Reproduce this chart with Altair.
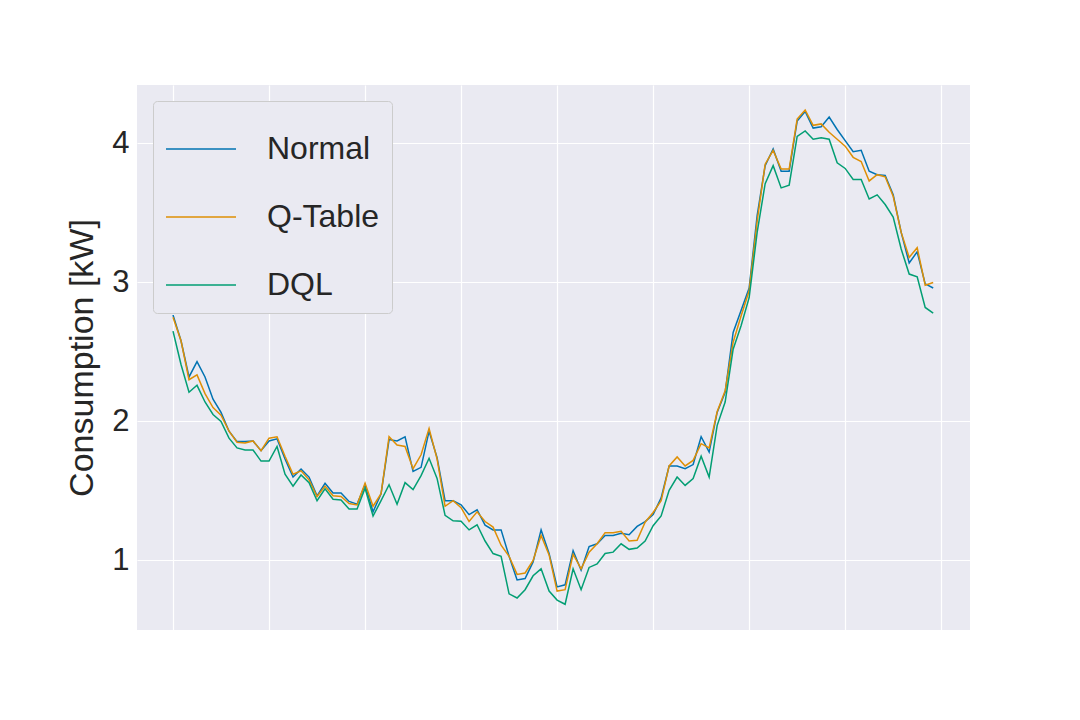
import altair as alt
import pandas as pd

# 15-minute steps over one day (96 values)
normal = [2.765, 2.58, 2.32, 2.43, 2.32, 2.16, 2.065, 1.93, 1.855, 1.855, 1.86, 1.79,
          1.86, 1.875, 1.73, 1.60, 1.657, 1.60, 1.465, 1.555, 1.485, 1.485, 1.425, 1.405,
          1.545, 1.35, 1.48, 1.87, 1.86, 1.89, 1.64, 1.67, 1.93, 1.74, 1.43, 1.43,
          1.40, 1.33, 1.365, 1.254, 1.22, 1.22, 1.03, 0.86, 0.87, 0.99, 1.22, 1.05,
          0.81, 0.825, 1.07, 0.93, 1.10, 1.12, 1.18, 1.18, 1.195, 1.185, 1.245, 1.28,
          1.33, 1.45, 1.68, 1.68, 1.66, 1.69, 1.89, 1.78, 2.065, 2.21, 2.64, 2.80,
          2.96, 3.48, 3.84, 3.96, 3.80, 3.80, 4.16, 4.23, 4.11, 4.12, 4.19, 4.10,
          4.02, 3.94, 3.95, 3.80, 3.775, 3.77, 3.63, 3.36, 3.14, 3.22, 2.99, 2.96]
qtable = [2.75, 2.58, 2.30, 2.335, 2.20, 2.10, 2.045, 1.93, 1.85, 1.845, 1.86, 1.79,
          1.88, 1.89, 1.75, 1.62, 1.645, 1.58, 1.46, 1.535, 1.465, 1.46, 1.41, 1.40,
          1.555, 1.39, 1.48, 1.89, 1.83, 1.82, 1.66, 1.76, 1.95, 1.73, 1.39, 1.43,
          1.38, 1.28, 1.35, 1.28, 1.24, 1.11, 1.03, 0.90, 0.91, 1.00, 1.18, 1.04,
          0.78, 0.79, 1.045, 0.94, 1.06, 1.12, 1.20, 1.20, 1.21, 1.14, 1.145, 1.275,
          1.345, 1.43, 1.68, 1.745, 1.68, 1.72, 1.84, 1.81, 2.07, 2.22, 2.57, 2.76,
          2.94, 3.44, 3.85, 3.95, 3.815, 3.815, 4.175, 4.24, 4.13, 4.14, 4.08, 4.03,
          3.98, 3.90, 3.87, 3.73, 3.775, 3.76, 3.62, 3.36, 3.18, 3.25, 2.98, 3.00]
dql = [2.65, 2.41, 2.21, 2.26, 2.14, 2.05, 2.0, 1.88, 1.81, 1.795, 1.795, 1.715,
       1.715, 1.82, 1.62, 1.535, 1.615, 1.56, 1.43, 1.515, 1.44, 1.435, 1.37, 1.37,
       1.52, 1.32, 1.43, 1.545, 1.405, 1.56, 1.51, 1.61, 1.735, 1.59, 1.325, 1.285,
       1.283, 1.22, 1.257, 1.14, 1.05, 1.03, 0.76, 0.73, 0.79, 0.89, 0.94, 0.78,
       0.715, 0.685, 0.94, 0.79, 0.95, 0.975, 1.05, 1.06, 1.12, 1.08, 1.09, 1.14,
       1.25, 1.32, 1.505, 1.60, 1.54, 1.59, 1.75, 1.60, 1.97, 2.14, 2.52, 2.69,
       2.89, 3.36, 3.71, 3.84, 3.68, 3.70, 4.05, 4.09, 4.03, 4.04, 4.03, 3.86,
       3.82, 3.74, 3.74, 3.60, 3.63, 3.56, 3.47, 3.24, 3.06, 3.04, 2.82, 2.78]

series = ["Normal", "Q-Table", "DQL"]
colors = ["#0173b2", "#de8f05", "#029e73"]

hours = [i * 0.25 for i in range(96)]
data = pd.DataFrame(
    [{"t": h, "Value": v, "Series": s}
     for s, vals in zip(series, [normal, qtable, dql])
     for h, v in zip(hours, vals)]
)

font = "Liberation Sans"

chart = (
    alt.Chart(data)
    .mark_line(strokeWidth=1.5)
    .encode(
        x=alt.X(
            "t:Q",
            title="Time",
            scale=alt.Scale(domain=[-1.125, 24.9], nice=False, zero=False),
            axis=alt.Axis(
                values=[0, 3, 6, 9, 12, 15, 18, 21, 24],
                labelExpr="(datum.value % 24 < 10 ? '0' : '') + (datum.value % 24) + ':00'",
            ),
        ),
        y=alt.Y(
            "Value:Q",
            title="Consumption [kW]",
            scale=alt.Scale(domain=[0.5, 4.42], nice=False, zero=False),
            axis=alt.Axis(values=[1, 2, 3, 4]),
        ),
        color=alt.Color(
            "Series:N",
            sort=series,
            scale=alt.Scale(domain=series, range=colors),
            legend=alt.Legend(
                title=None,
                orient="top-left",
                offset=16,
                fillColor="#eaeaf2",
                strokeColor="#cccccc",
                cornerRadius=4,
                padding=12,
                labelFontSize=32,
                labelFont=font,
                labelColor="#262626",
                symbolType="stroke",
                symbolStrokeWidth=1.5,
                symbolSize=4900,
                rowPadding=16,
                labelOffset=30,
            ),
        ),
    )
    .properties(
        width=833,
        height=545,
        padding={"left": 129, "top": 77, "right": 0, "bottom": 0},
        autosize=alt.AutoSizeParams(type="none"),
        background="white",
    )
    .configure_view(fill="#eaeaf2", stroke=None)
    .configure_axis(
        grid=True,
        gridColor="white",
        gridWidth=1.2,
        domain=False,
        ticks=False,
        labelFont=font,
        titleFont=font,
        labelFontSize=31,
        titleFontSize=34,
        titleFontWeight="normal",
        labelColor="#262626",
        titleColor="#262626",
        labelPadding=8,
    )
    .configure_axisX(titlePadding=2)
    .configure_axisY(titlePadding=12)
)

chart.save("out.html", embed_options={"renderer": "svg", "actions": False})
